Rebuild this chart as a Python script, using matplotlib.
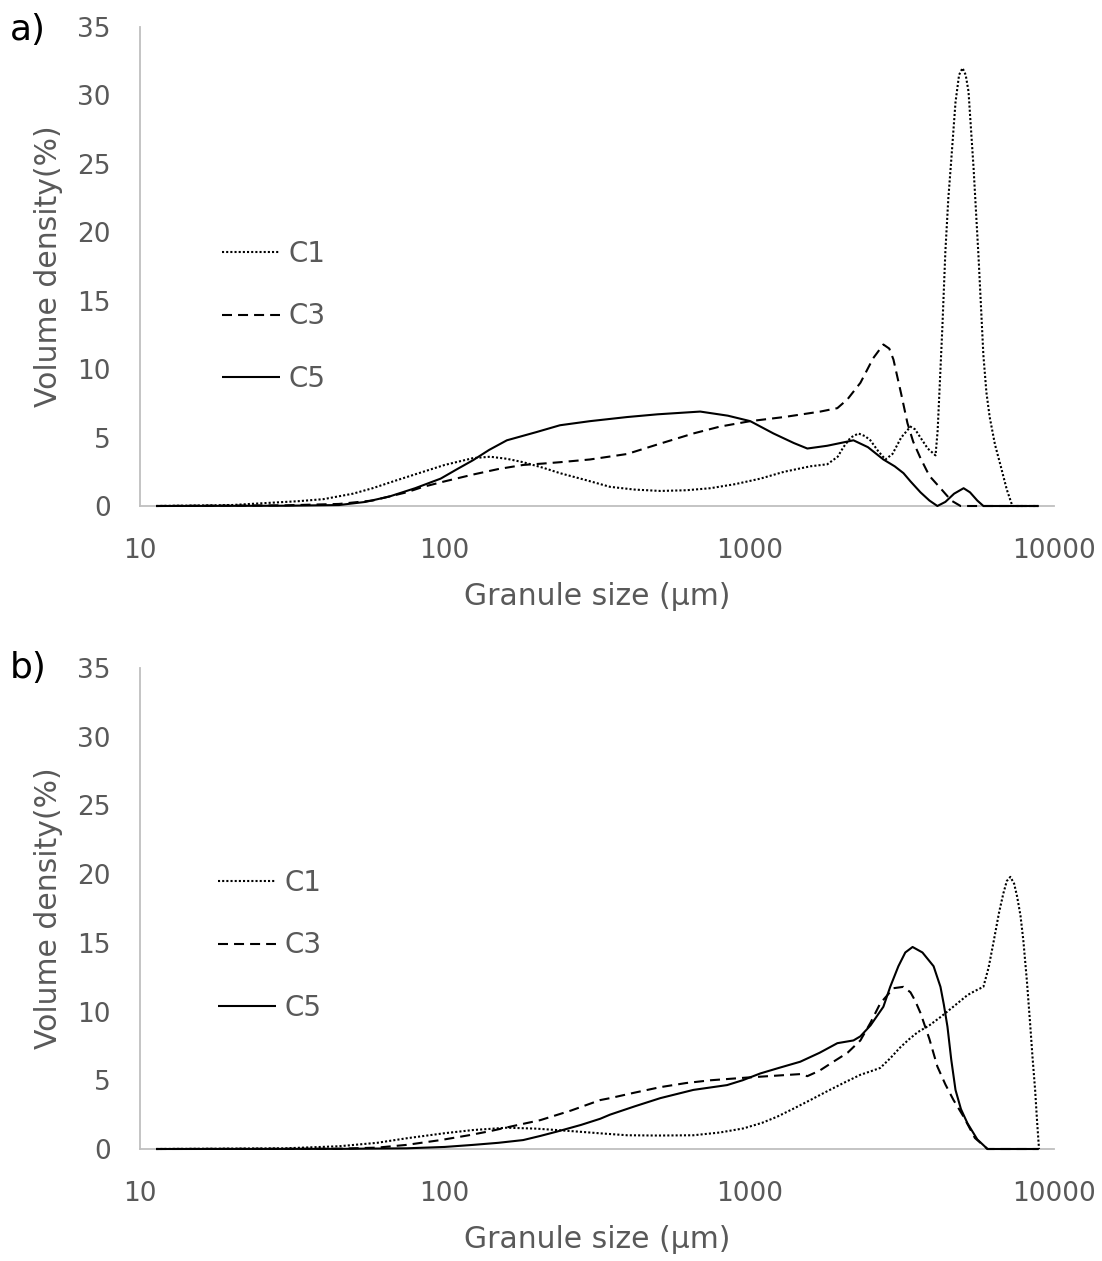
import matplotlib
matplotlib.use("Agg")
import matplotlib.pyplot as plt
from matplotlib.ticker import FixedLocator, FixedFormatter, NullLocator

# ---------------- data ----------------
# Panel a)
size_c1_a = [11.3, 20, 27, 33, 40, 50, 58, 70, 85, 100, 124, 141, 160, 181, 210, 239,
             290, 349, 420, 510, 620, 745, 900, 1087, 1300, 1585, 1803, 1950, 2036,
             2150, 2281, 2400, 2496, 2650, 2797, 2950, 3150, 3380, 3500, 3645, 3850,
             4085, 4150, 4200, 4300, 4400, 4500, 4590, 4750, 4880, 5010, 5130, 5240,
             5445, 5650, 5865, 6000, 6150, 6400, 6670, 7000, 7300, 8890]
c1_a = [0, 0.07, 0.24, 0.35, 0.5, 0.9, 1.3, 1.9, 2.5, 3.0, 3.5, 3.6, 3.45, 3.2, 2.8, 2.4,
        1.9, 1.4, 1.2, 1.1, 1.15, 1.3, 1.6, 2.0, 2.5, 2.9, 3.05, 3.6, 4.3,
        5.0, 5.3, 5.1, 4.8, 4.0, 3.4, 3.8, 5.0, 5.8, 5.6, 5.0, 4.2,
        3.7, 5.5, 8.0, 13.0, 18.6, 22.5, 25.0, 29.5, 31.5, 32.0, 31.5, 30.3,
        24.7, 18.3, 11.0, 8.3, 6.5, 4.5, 3.0, 1.2, 0, 0]

size_c3_a = [11.3, 30, 45, 58, 66, 75, 85, 100, 124, 150, 181, 210, 239, 300, 397, 500,
             655, 800, 1007, 1300, 1710, 1945, 2100, 2315, 2550, 2754, 2880, 2972,
             3150, 3304, 3450, 3645, 3900, 4240, 4600, 4935, 8890]
c3_a = [0, 0.05, 0.15, 0.4, 0.7, 1.0, 1.4, 1.8, 2.3, 2.7, 3.0, 3.1, 3.2, 3.4, 3.8, 4.5,
        5.3, 5.8, 6.2, 6.5, 6.9, 7.15, 7.8, 9.0, 10.8, 11.8, 11.5, 10.7,
        8.2, 6.05, 4.7, 3.5, 2.2, 1.3, 0.4, 0, 0]

size_c5_a = [11.3, 30, 45, 55, 66, 80, 97, 110, 124, 140, 160, 200, 239, 300, 397, 500,
             690, 850, 1007, 1200, 1400, 1550, 1800, 2197, 2450, 2754, 3000, 3206,
             3380, 3645, 3900, 4142, 4400, 4700, 5050, 5300, 5600, 5865, 8890]
c5_a = [0, 0.02, 0.07, 0.3, 0.7, 1.3, 2.0, 2.7, 3.35, 4.1, 4.8, 5.4, 5.9, 6.2, 6.5, 6.7,
        6.9, 6.6, 6.2, 5.3, 4.6, 4.2, 4.4, 4.8, 4.3, 3.4, 2.9, 2.4,
        1.8, 1.0, 0.4, 0, 0.3, 0.9, 1.3, 1.0, 0.4, 0, 0]

# Panel b)
size_c1_b = [11.3, 30, 45, 60, 75, 100, 124, 160, 200, 233, 280, 324, 397, 500, 655,
             800, 957, 1100, 1234, 1400, 1585, 1800, 2036, 2315, 2500, 2690, 2900,
             3130, 3350, 3570, 3900, 4240, 4700, 5200, 5500, 5865, 6100, 6325, 6600,
             6820, 7000, 7190, 7400, 7570, 7760, 7930, 8150, 8350, 8500, 8670, 8800, 8930]
c1_b = [0, 0.05, 0.2, 0.45, 0.78, 1.15, 1.38, 1.55, 1.48, 1.38, 1.25, 1.14, 1.0, 0.98, 1.0,
        1.2, 1.5, 1.9, 2.35, 2.95, 3.56, 4.2, 4.8, 5.4, 5.65, 5.9, 6.6,
        7.4, 8.0, 8.5, 9.0, 9.6, 10.4, 11.2, 11.5, 11.8, 13.2, 15.0, 17.2,
        18.6, 19.5, 19.8, 19.3, 18.35, 17.0, 15.2, 12.2, 9.1, 6.7, 4.3, 2.0, 0]

size_c3_b = [11.3, 45, 60, 75, 97, 120, 141, 170, 206, 260, 324, 349, 420, 510, 620,
             745, 985, 1250, 1469, 1550, 1700, 1887, 2100, 2315, 2500, 2690, 2972,
             3206, 3380, 3500, 3645, 3900, 4142, 4400, 4680, 5050, 5500, 6050, 8900]
c3_b = [0, 0.02, 0.1, 0.3, 0.65, 1.0, 1.3, 1.7, 2.1, 2.8, 3.56, 3.7, 4.1, 4.5, 4.8,
        5.0, 5.2, 5.35, 5.45, 5.3, 5.7, 6.35, 7.0, 7.9, 9.2, 10.6, 11.7,
        11.8, 11.4, 10.8, 9.9, 8.0, 6.0, 4.7, 3.56, 2.35, 0.8, 0, 0]

size_c5_b = [11.3, 45, 75, 100, 124, 150, 181, 206, 233, 280, 324, 349, 420, 510, 655,
             845, 950, 1087, 1250, 1469, 1700, 1945, 2197, 2315, 2500, 2754, 2900,
             3085, 3250, 3434, 3700, 4025, 4240, 4350, 4470, 4600, 4750, 4950, 5200,
             5600, 6050, 8900]
c5_b = [0, 0.01, 0.05, 0.15, 0.3, 0.45, 0.65, 0.95, 1.26, 1.75, 2.2, 2.5, 3.1, 3.7, 4.3,
        4.65, 5.0, 5.5, 5.9, 6.35, 7.0, 7.7, 7.9, 8.2, 9.0, 10.35, 11.8,
        13.3, 14.3, 14.7, 14.3, 13.3, 11.8, 10.5, 8.9, 6.5, 4.3, 2.9, 1.87,
        0.7, 0, 0]

series_names = ["C1", "C3", "C5"]
x_ticks = [10, 100, 1000, 10000]
x_tick_labels = ["10", "100", "1000", "10000"]
y_ticks = [0, 5, 10, 15, 20, 25, 30, 35]
panel_labels = ["a)", "b)"]
x_title = "Granule size (µm)"
y_title = "Volume density(%)"

# ---------------- figure ----------------
plt.rcParams['font.family'] = ['DejaVu Sans']
W, H = 1102, 1261
fig = plt.figure(figsize=(W / 100, H / 100), dpi=100)

GRAY = "#595959"
SPINE = "#BFBFBF"

styles = [dict(linestyle=(0, (1.0, 1.0)), linewidth=1.5),
          dict(linestyle=(0, (4.8, 2.9)), linewidth=1.5),
          dict(linestyle="-", linewidth=1.5)]

panels = [
    dict(rect=[140 / W, 1 - 506 / H, 914 / W, 479 / H],
         data=[(size_c1_a, c1_a), (size_c3_a, c3_a), (size_c5_a, c5_a)],
         leg=(0.0897, 0.556), lab_y=1 - 30 / H),
    dict(rect=[140 / W, 1 - 1149 / H, 914 / W, 481 / H],
         data=[(size_c1_b, c1_b), (size_c3_b, c3_b), (size_c5_b, c5_b)],
         leg=(0.085, 0.583), lab_y=1 - 668 / H),
]

for i, p in enumerate(panels):
    ax = fig.add_axes(p["rect"])
    for (xs, ys), name, st in zip(p["data"], series_names, styles):
        ax.plot(xs, ys, color="black", label=name, clip_on=False,
                solid_capstyle="butt", dash_capstyle="butt",
                solid_joinstyle="round", **st)
    ax.set_xscale("log")
    ax.set_xlim(10, 10000)
    ax.set_ylim(0, 35)
    ax.xaxis.set_major_locator(FixedLocator(x_ticks))
    ax.xaxis.set_major_formatter(FixedFormatter(x_tick_labels))
    ax.xaxis.set_minor_locator(NullLocator())
    ax.set_yticks(y_ticks)
    ax.tick_params(axis="both", length=0, labelsize=19, labelcolor=GRAY)
    ax.tick_params(axis="y", pad=21)
    ax.tick_params(axis="x", pad=23)
    for s in ("top", "right"):
        ax.spines[s].set_visible(False)
    for s in ("left", "bottom"):
        ax.spines[s].set_color(SPINE)
        ax.spines[s].set_linewidth(1.3)
        ax.spines[s].set_zorder(0.5)
    ax.set_xlabel(x_title, fontsize=21.5, color=GRAY, labelpad=13)
    ax.set_ylabel(y_title, fontsize=21.5, color=GRAY, labelpad=10)
    leg = ax.legend(loc="upper left", bbox_to_anchor=p["leg"], frameon=False,
                    fontsize=20, handlelength=2.1, handletextpad=0.3,
                    labelspacing=1.25, borderpad=0, borderaxespad=0)
    for t in leg.get_texts():
        t.set_color(GRAY)
    fig.text(10 / W, p["lab_y"], panel_labels[i], fontsize=26, color="black",
             ha="left", va="center")

fig.savefig("out.png", dpi=100, facecolor="white")
